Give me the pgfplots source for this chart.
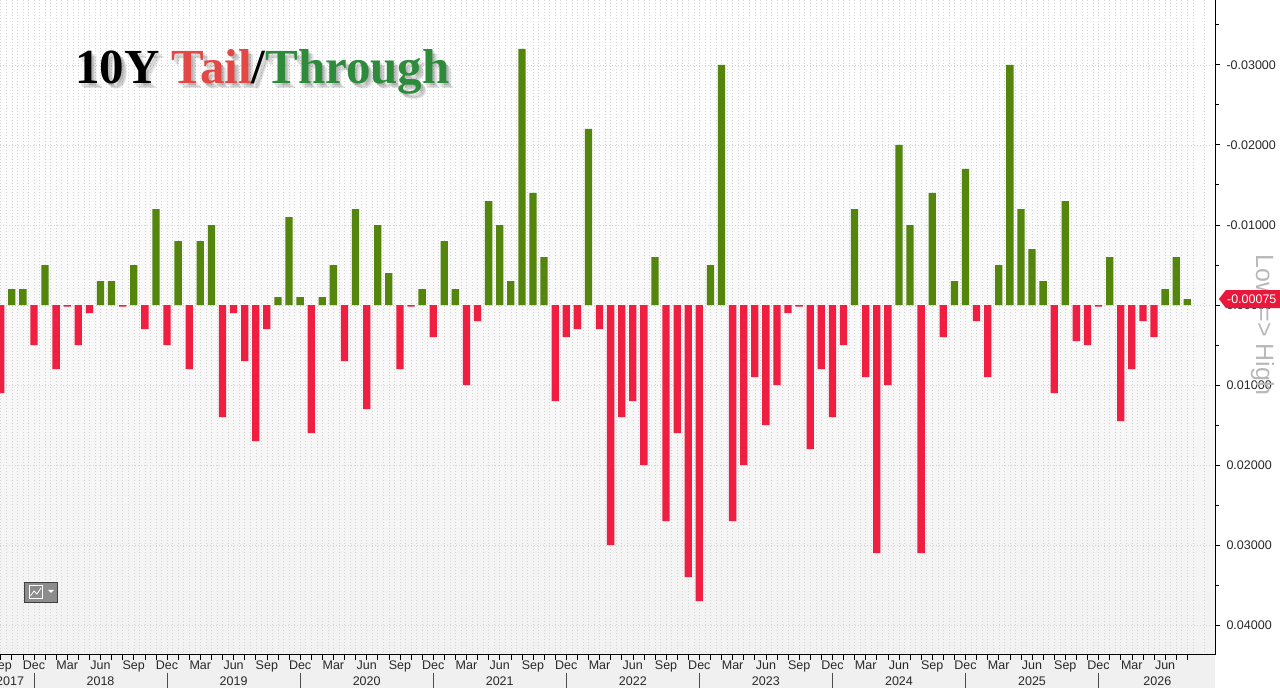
\documentclass[border=0pt]{standalone}
\usepackage{pgfplots}
\usepackage{pgfplotstable}
\pgfplotsset{compat=1.18}
\usepackage{fontspec}
\setmainfont{Liberation Sans}
\newfontfamily\titlefont{Liberation Serif}
\definecolor{bargreen}{RGB}{84,134,14}
\definecolor{barred}{RGB}{240,30,65}
\definecolor{tagred}{RGB}{232,24,60}
\definecolor{tailred}{RGB}{228,72,68}
\definecolor{thrgreen}{RGB}{46,139,60}
\definecolor{gridgray}{RGB}{212,212,212}
\definecolor{stripgray}{RGB}{240,240,240}
\definecolor{lbl}{RGB}{40,40,40}

% Tail (positive) auctions, x = month index from Sep 2017
\pgfplotstableread{
x y
0 0.011
3 0.005
5 0.008
6 0.0002
7 0.005
8 0.001
11 0.0002
13 0.003
15 0.005
17 0.008
20 0.014
21 0.001
22 0.007
23 0.017
24 0.003
28 0.016
31 0.007
33 0.013
36 0.008
37 0.0002
39 0.004
42 0.010
43 0.002
50 0.012
51 0.004
52 0.003
54 0.003
55 0.030
56 0.014
57 0.012
58 0.020
60 0.027
61 0.016
62 0.034
63 0.037
66 0.027
67 0.020
68 0.009
69 0.015
70 0.010
71 0.001
72 0.0002
73 0.018
74 0.008
75 0.014
76 0.005
78 0.009
79 0.031
80 0.010
83 0.031
85 0.004
88 0.002
89 0.009
95 0.011
97 0.0045
98 0.005
99 0.0002
101 0.0145
102 0.008
103 0.002
104 0.004
}\tailtab

% Through (negative) auctions
\pgfplotstableread{
x y
1 -0.002
2 -0.002
4 -0.005
9 -0.003
10 -0.003
12 -0.005
14 -0.012
16 -0.008
18 -0.008
19 -0.010
25 -0.001
26 -0.011
27 -0.001
29 -0.001
30 -0.005
32 -0.012
34 -0.010
35 -0.004
38 -0.002
40 -0.008
41 -0.002
44 -0.013
45 -0.010
46 -0.003
47 -0.032
48 -0.014
49 -0.006
53 -0.022
59 -0.006
64 -0.005
65 -0.030
77 -0.012
81 -0.020
82 -0.010
84 -0.014
86 -0.003
87 -0.017
90 -0.005
91 -0.030
92 -0.012
93 -0.007
94 -0.003
96 -0.013
100 -0.006
105 -0.002
106 -0.006
107 -0.00075
}\thrtab

\begin{document}
\begin{tikzpicture}[x=1pt,y=1pt]
\clip (0,0) rectangle (1280,688);
\fill[white] (0,0) rectangle (1280,688);
\fill[stripgray] (0,0) rectangle (1215,33);
\begin{axis}[
  at={(0pt,33pt)}, anchor=south west,
  scale only axis, width=1215pt, height=655pt,
  y dir=reverse,
  xmin=-0.063, xmax=109.5,
  ymin=-0.038125, ymax=0.04375,
  enlargelimits=false,
  clip=false,
  axis background/.style={top color=white, bottom color=black!5},
  axis line style={draw=none},
  xtick={0,1,...,107},
  minor xtick={0.5,1.5,...,108.5},
  xticklabel={\pgfmathtruncatemacro\mm{mod(\ticknum,12)}\ifcase\mm Sep\or\or\or Dec\or\or\or Mar\or\or\or Jun\or\or\fi},
  xtick pos=lower,
  ytick={-0.03,-0.02,...,0.04},
  minor ytick={-0.035,-0.025,...,0.04},
  ytick pos=right,
  yticklabel pos=right,
  tick align=outside,
  major tick length=5pt, minor tick length=4pt,
  x tick style={black, line width=0.6pt},
  minor x tick style={draw=none},
  y tick style={black, line width=1pt},
  scaled y ticks=false,
  yticklabel style={/pgf/number format/assume math mode=true,
     /pgf/number format/fixed, /pgf/number format/precision=5,
     /pgf/number format/fixed zerofill,
     font=\fontsize{12.5}{14}\selectfont, text=lbl, xshift=3pt},
  xticklabel style={font=\fontsize{12.5}{14}\selectfont, text=lbl, inner sep=1pt},
  xmajorgrids=true, xminorgrids=true, ymajorgrids=true,
  major grid style={gridgray, dash pattern=on 1pt off 2pt, line width=0.5pt},
  minor grid style={gridgray, dash pattern=on 1pt off 2pt, line width=0.5pt},
]
\addplot[ybar, bar width=7.3pt, bar shift=0pt, fill=barred, draw=none] table[x=x,y=y]{\tailtab};
\addplot[ybar, bar width=7.3pt, bar shift=0pt, fill=bargreen, draw=none] table[x=x,y=y]{\thrtab};

% year labels and separators
\pgfplotsinvokeforeach{3,15,27,39,51,63,75,87,99}{
  \draw[black!70, line width=0.6pt] (axis cs:#1,0.04595) -- (axis cs:#1,0.0485);
}
\node[font=\fontsize{12.5}{14}\selectfont, text=lbl] at (axis cs:0.85,0.0470) {2017};
\node[font=\fontsize{12.5}{14}\selectfont, text=lbl] at (axis cs:9,0.0470) {2018};
\node[font=\fontsize{12.5}{14}\selectfont, text=lbl] at (axis cs:21,0.0470) {2019};
\node[font=\fontsize{12.5}{14}\selectfont, text=lbl] at (axis cs:33,0.0470) {2020};
\node[font=\fontsize{12.5}{14}\selectfont, text=lbl] at (axis cs:45,0.0470) {2021};
\node[font=\fontsize{12.5}{14}\selectfont, text=lbl] at (axis cs:57,0.0470) {2022};
\node[font=\fontsize{12.5}{14}\selectfont, text=lbl] at (axis cs:69,0.0470) {2023};
\node[font=\fontsize{12.5}{14}\selectfont, text=lbl] at (axis cs:81,0.0470) {2024};
\node[font=\fontsize{12.5}{14}\selectfont, text=lbl] at (axis cs:93,0.0470) {2025};
\node[font=\fontsize{12.5}{14}\selectfont, text=lbl] at (axis cs:104.3,0.0470) {2026};

% Low => High
\node[rotate=-90, text=black!28, font=\fontsize{25}{25}\selectfont] at (axis cs:113.8,0.0025) {Low => High};
% last value tag
\fill[tagred] (axis cs:109.85,-0.00075) -- ++(7pt,9pt) -- ++(60pt,0pt) -- ++(0pt,-18pt) -- ++(-60pt,0pt) -- cycle;
\node[anchor=west, text=white, inner sep=0pt, font=\fontsize{12.5}{14}\selectfont] at (axis cs:109.85,-0.00075) [xshift=8pt] {-0.00075};
\end{axis}
% frame lines
\draw[black, line width=1pt] (0,33) -- (1215,33);
\draw[black, line width=1pt] (1215,33) -- (1215,688);
% title with soft shadow
\node[anchor=base west, inner sep=0pt, text=black, opacity=0.10, font=\titlefont\bfseries\fontsize{49}{50}\selectfont] at (80,599) {10Y Tail/Through};
\node[anchor=base west, inner sep=0pt, text=black, opacity=0.10, font=\titlefont\bfseries\fontsize{49}{50}\selectfont] at (78.5,600.5) {10Y Tail/Through};
\node[anchor=base west, inner sep=0pt, text=black, opacity=0.10, font=\titlefont\bfseries\fontsize{49}{50}\selectfont] at (77,602) {10Y Tail/Through};
\node[anchor=base west, inner sep=0pt, font=\titlefont\bfseries\fontsize{49}{50}\selectfont] at (75,604) {10Y \textcolor{tailred}{Tail}/\textcolor{thrgreen}{Through}};
% chart-type icon
\fill[black!45] (24,86) rectangle (57,106);
\draw[black!75, line width=0.8pt] (24,86) rectangle (57,106);
\draw[white, line width=0.6pt] (29,89.5) rectangle (42,102.5);
\draw[white, line width=0.8pt] (30.5,92) -- (34,97) -- (37,94) -- (41,100);
\fill[white] (48,98) -- (54,98) -- (51,95) -- cycle;
\end{tikzpicture}
\end{document}
